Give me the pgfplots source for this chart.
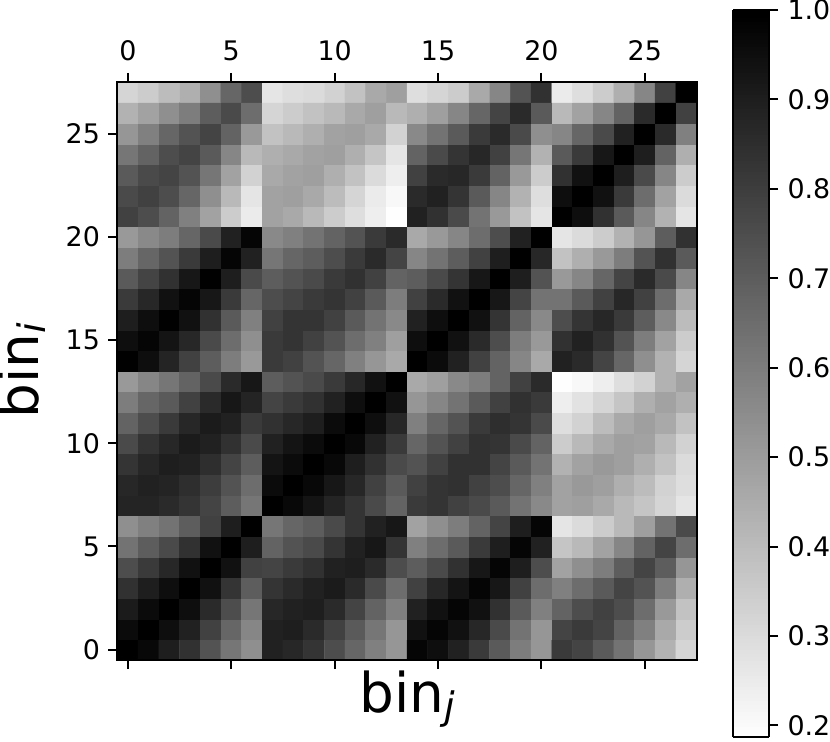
\documentclass[border=0pt]{standalone}
\usepackage{fontspec}
\setmainfont{DejaVu Sans}
\usepackage{pgfplots}
\pgfplotsset{compat=1.18}
\newcommand{\binlabel}[1]{\fontsize{55}{58}\selectfont bin\raisebox{-7bp}{\fontsize{38}{38}\selectfont\itshape #1}}
\begin{document}
\begin{tikzpicture}
\path[use as bounding box] (-117.5bp,-82bp) rectangle (712.5bp,660bp);
\begin{axis}[
  scale only axis,
  width=579bp, height=578bp,
  axis on top,
  xmin=-0.5, xmax=27.5,
  ymin=-0.5, ymax=27.5,
  xtick={0,5,10,15,20,25},
  ytick={0,5,10,15,20,25},
  xtick pos=both,
  xticklabel pos=top,
  ytick pos=left,
  tick align=outside,
  major tick length=9bp,
  axis line style={line width=2bp},
  every tick/.style={black,line width=2bp},
  /pgf/number format/assume math mode=true,
  ticklabel style={font=\fontsize{27}{30}\selectfont},
  xticklabel style={yshift=9bp},
  yticklabel style={xshift=-5bp},
  xlabel={\binlabel{j}},
  ylabel={\binlabel{i}},
  xlabel style={at={(axis description cs:0.5,-0.0914)},anchor=base},
  ylabel style={at={(axis description cs:-0.136,0.5)},anchor=base},
  colormap={grayr}{gray(0cm)=(1); gray(1cm)=(0)},
  point meta min=0.187, point meta max=1.0,
  colorbar sampled,
  colorbar style={
    samples=200,
    scale only axis,
    width=36bp, height=727bp,
    at={(parent axis.north east)}, anchor=north west,
    xshift=28bp, yshift=72bp,
    xmin=0, xmax=1, ymin=0.187, ymax=1.0,
    ytick={0.2,0.3,0.4,0.5,0.6,0.7,0.8,0.9,1.0},
    yticklabel pos=right,
    ytick pos=right,
    tick align=outside,
    major tick length=9bp,
    axis line style={line width=2bp},
    every tick/.style={black,line width=2bp},
    /pgf/number format/assume math mode=true,
    yticklabel style={font=\fontsize{27}{30}\selectfont,xshift=6bp,
      /pgf/number format/fixed,/pgf/number format/fixed zerofill,/pgf/number format/precision=1},
  },
]
% correlation matrix, row 0 first
\addplot[matrix plot*, mesh/cols=28, point meta=explicit] table[row sep=crcr,
  x expr={mod(\coordindex,28)}, y expr={floor((\coordindex+0.5)/28)}, meta=z] {
z\\
1.00\\.97\\.90\\.84\\.73\\.62\\.54\\.89\\.87\\.83\\.75\\.67\\.59\\.52\\.98\\.95\\.89\\.81\\.71\\.60\\.52\\.81\\.78\\.71\\.63\\.52\\.43\\.32\\
.96\\1.00\\.95\\.89\\.79\\.67\\.57\\.89\\.90\\.86\\.79\\.71\\.62\\.52\\.94\\.98\\.94\\.87\\.76\\.63\\.52\\.78\\.81\\.78\\.68\\.59\\.46\\.35\\
.91\\.96\\1.00\\.95\\.86\\.75\\.62\\.87\\.89\\.90\\.86\\.78\\.68\\.59\\.89\\.94\\.98\\.94\\.84\\.71\\.59\\.68\\.75\\.79\\.75\\.65\\.51\\.38\\
.84\\.90\\.95\\1.00\\.94\\.83\\.70\\.83\\.86\\.89\\.91\\.86\\.76\\.65\\.79\\.87\\.93\\.98\\.92\\.79\\.65\\.59\\.65\\.71\\.78\\.73\\.60\\.44\\
.75\\.81\\.87\\.94\\1.00\\.94\\.79\\.78\\.81\\.84\\.89\\.90\\.86\\.75\\.70\\.76\\.84\\.92\\.98\\.90\\.75\\.48\\.54\\.60\\.70\\.78\\.70\\.52\\
.63\\.70\\.76\\.84\\.94\\1.00\\.90\\.68\\.73\\.76\\.83\\.89\\.92\\.83\\.59\\.65\\.71\\.81\\.90\\.98\\.89\\.37\\.41\\.48\\.57\\.68\\.78\\.65\\
.54\\.59\\.63\\.70\\.79\\.90\\1.00\\.62\\.67\\.70\\.76\\.83\\.89\\.92\\.48\\.54\\.60\\.68\\.78\\.90\\.98\\.27\\.30\\.35\\.41\\.49\\.63\\.76\\
.88\\.88\\.86\\.83\\.78\\.70\\.62\\1.00\\.97\\.93\\.88\\.83\\.76\\.68\\.81\\.83\\.79\\.76\\.71\\.63\\.56\\.48\\.49\\.46\\.41\\.37\\.32\\.27\\
.87\\.89\\.88\\.85\\.80\\.73\\.65\\.96\\1.00\\.97\\.92\\.87\\.79\\.71\\.79\\.83\\.84\\.79\\.75\\.67\\.59\\.48\\.51\\.49\\.44\\.40\\.33\\.29\\
.83\\.87\\.90\\.89\\.85\\.78\\.70\\.93\\.96\\1.00\\.97\\.90\\.84\\.76\\.73\\.79\\.84\\.84\\.78\\.71\\.63\\.43\\.48\\.51\\.49\\.44\\.38\\.30\\
.76\\.83\\.87\\.91\\.89\\.84\\.76\\.89\\.93\\.96\\1.00\\.97\\.89\\.81\\.67\\.73\\.79\\.84\\.83\\.76\\.68\\.35\\.41\\.46\\.49\\.48\\.41\\.33\\
.68\\.75\\.81\\.87\\.91\\.89\\.81\\.84\\.87\\.90\\.96\\1.00\\.95\\.87\\.59\\.67\\.73\\.81\\.85\\.83\\.76\\.29\\.33\\.40\\.46\\.49\\.46\\.38\\
.60\\.67\\.71\\.79\\.86\\.92\\.88\\.78\\.81\\.84\\.89\\.95\\1.00\\.94\\.52\\.57\\.63\\.71\\.79\\.84\\.81\\.24\\.28\\.32\\.37\\.44\\.48\\.44\\
.51\\.57\\.62\\.68\\.76\\.86\\.92\\.70\\.73\\.76\\.81\\.87\\.94\\1.00\\.46\\.49\\.56\\.60\\.68\\.79\\.86\\.19\\.21\\.24\\.29\\.33\\.43\\.48\\
.99\\.95\\.88\\.79\\.70\\.60\\.51\\.81\\.79\\.73\\.67\\.59\\.52\\.46\\1.00\\.96\\.89\\.79\\.68\\.57\\.46\\.89\\.86\\.78\\.67\\.54\\.43\\.32\\
.95\\.98\\.93\\.87\\.76\\.65\\.54\\.81\\.83\\.79\\.73\\.65\\.59\\.49\\.95\\1.00\\.94\\.86\\.75\\.60\\.51\\.84\\.89\\.84\\.73\\.60\\.48\\.35\\
.90\\.95\\.99\\.94\\.84\\.71\\.59\\.79\\.83\\.83\\.79\\.71\\.63\\.56\\.89\\.95\\1.00\\.94\\.83\\.68\\.56\\.75\\.83\\.87\\.81\\.70\\.56\\.40\\
.81\\.87\\.94\\.98\\.92\\.81\\.67\\.75\\.78\\.81\\.83\\.79\\.71\\.60\\.79\\.86\\.94\\1.00\\.92\\.78\\.63\\.63\\.71\\.79\\.87\\.79\\.65\\.46\\
.71\\.78\\.84\\.92\\.99\\.90\\.76\\.70\\.73\\.76\\.81\\.84\\.79\\.68\\.70\\.76\\.83\\.92\\1.00\\.90\\.73\\.51\\.57\\.67\\.78\\.86\\.76\\.57\\
.60\\.67\\.73\\.81\\.90\\.98\\.89\\.62\\.67\\.70\\.75\\.81\\.86\\.78\\.57\\.63\\.70\\.79\\.90\\1.00\\.87\\.38\\.44\\.51\\.60\\.73\\.84\\.71\\
.51\\.56\\.60\\.67\\.76\\.89\\.98\\.56\\.59\\.63\\.68\\.73\\.81\\.86\\.46\\.51\\.57\\.65\\.75\\.89\\1.00\\.27\\.30\\.35\\.43\\.52\\.70\\.84\\
.79\\.75\\.68\\.59\\.48\\.35\\.25\\.48\\.46\\.41\\.35\\.29\\.24\\.19\\.89\\.84\\.76\\.63\\.51\\.38\\.27\\1.00\\.95\\.84\\.71\\.57\\.43\\.27\\
.76\\.79\\.75\\.67\\.54\\.41\\.27\\.48\\.49\\.46\\.40\\.32\\.25\\.21\\.86\\.89\\.83\\.71\\.57\\.43\\.29\\.95\\1.00\\.94\\.81\\.65\\.48\\.30\\
.71\\.76\\.78\\.73\\.62\\.48\\.33\\.46\\.48\\.49\\.44\\.38\\.30\\.24\\.79\\.86\\.87\\.81\\.68\\.51\\.35\\.84\\.94\\1.00\\.90\\.76\\.57\\.35\\
.62\\.68\\.75\\.78\\.71\\.57\\.41\\.44\\.46\\.48\\.49\\.44\\.37\\.27\\.68\\.76\\.83\\.87\\.79\\.62\\.43\\.71\\.81\\.92\\1.00\\.90\\.68\\.44\\
.52\\.59\\.67\\.73\\.78\\.68\\.51\\.38\\.41\\.44\\.48\\.49\\.46\\.33\\.56\\.63\\.71\\.81\\.86\\.76\\.54\\.57\\.67\\.76\\.89\\1.00\\.86\\.59\\
.43\\.48\\.54\\.60\\.70\\.76\\.65\\.32\\.35\\.38\\.41\\.46\\.49\\.41\\.44\\.49\\.57\\.67\\.78\\.86\\.71\\.41\\.48\\.57\\.68\\.86\\1.00\\.79\\
.32\\.35\\.40\\.44\\.54\\.67\\.75\\.27\\.29\\.30\\.33\\.38\\.46\\.49\\.29\\.32\\.35\\.46\\.57\\.73\\.84\\.25\\.29\\.35\\.44\\.57\\.79\\1.00\\
};
\end{axis}
\end{tikzpicture}
\end{document}
